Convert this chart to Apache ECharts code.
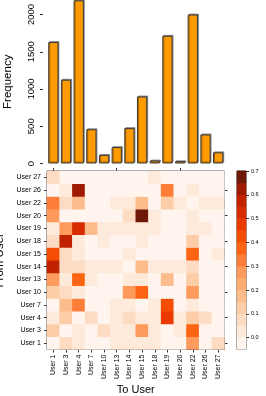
<!DOCTYPE html>
<html>
<head>
<meta charset="utf-8">
<script src="https://cdn.jsdelivr.net/npm/echarts@6/dist/echarts.min.js"></script>
<style>
html,body{margin:0;padding:0;background:#fff;}
#chart{width:266px;height:396px;}
</style>
</head>
<body>
<div id="chart"></div>
<script>
// Users (columns left->right; rows bottom->top)
const users = ['User 1','User 3','User 4','User 7','User 10','User 13','User 14','User 15','User 18','User 19','User 20','User 22','User 26','User 27'];
// Bar chart: frequency per "to" user
const frequency = [1630, 1125, 2190, 460, 115, 220, 475, 900, 40, 1715, 30, 2000, 390, 150];
const freqTicks = [0, 500, 1000, 1500, 2000];
// Transition probabilities: one row per "from" user (User 1 ... User 27), columns = "to" users
const fromUser1  = [0,    0.07, 0.03, 0,    0,    0.03, 0.03, 0.03, 0.03, 0,    0,    0.27, 0,    0.07];
const fromUser3  = [0.12, 0,    0.03, 0,    0.07, 0.03, 0.03, 0.27, 0.03, 0,    0.03, 0.38, 0,    0];
const fromUser4  = [0.03, 0.12, 0,    0.07, 0,    0.03, 0.07, 0.03, 0.03, 0.47, 0.03, 0.12, 0.07, 0];
const fromUser7  = [0,    0.18, 0.34, 0,    0,    0.03, 0.03, 0,    0.03, 0.43, 0,    0.03, 0,    0];
const fromUser10 = [0.12, 0.07, 0.03, 0,    0,    0,    0.27, 0.38, 0,    0,    0,    0.27, 0,    0];
const fromUser13 = [0.27, 0.03, 0.38, 0.03, 0,    0,    0.03, 0.03, 0,    0.17, 0,    0.12, 0,    0];
const fromUser14 = [0.57, 0.07, 0.07, 0.03, 0.03, 0.03, 0,    0.18, 0.03, 0.03, 0.03, 0.07, 0,    0];
const fromUser15 = [0.43, 0.07, 0.03, 0,    0,    0,    0.03, 0,    0,    0,    0,    0.38, 0,    0.03];
const fromUser18 = [0.07, 0.57, 0.03, 0,    0.03, 0,    0,    0.03, 0,    0,    0,    0.12, 0,    0];
const fromUser19 = [0.03, 0.27, 0.53, 0.18, 0.03, 0.03, 0.03, 0.03, 0.03, 0,    0,    0.03, 0.03, 0];
const fromUser20 = [0.27, 0,    0,    0,    0,    0,    0.07, 0.67, 0.03, 0,    0,    0.03, 0,    0];
const fromUser22 = [0.34, 0.07, 0.17, 0,    0,    0.03, 0.03, 0.17, 0,    0.12, 0.03, 0,    0.03, 0.03];
const fromUser26 = [0,    0.03, 0.62, 0,    0,    0,    0,    0,    0,    0.34, 0,    0.03, 0,    0];
const fromUser27 = [0.07, 0,    0,    0,    0,    0,    0,    0,    0.03, 0,    0,    0,    0,    0];
const transition = [fromUser1, fromUser3, fromUser4, fromUser7, fromUser10, fromUser13, fromUser14, fromUser15, fromUser18, fromUser19, fromUser20, fromUser22, fromUser26, fromUser27];
// Colour key
const colorTicks = [0, 0.1, 0.2, 0.3, 0.4, 0.5, 0.6, 0.7];
const bandEdges = [-0.05, 0, 0.05, 0.1, 0.15, 0.2, 0.25, 0.3, 0.35, 0.4, 0.45, 0.5, 0.55, 0.6, 0.65, 0.7];
const bandColors = ['#FFF5EE','#FEEADB','#FDDCC3','#FDCDA8','#FDBC8C','#FDAC72','#FD9A5C','#FD7E38','#FD6414','#F54C06','#EA3A00','#D62C00','#C02200','#A01A02','#6E1808'];

const FONT = '"Liberation Sans", Arial, sans-serif';
const heatData = [];
transition.forEach((row, r) => row.forEach((v, c) => heatData.push([c, r, v])));
const bandIdx = bandColors.map((_, i) => 'b' + i);
const keyData = bandColors.map((_, i) => [0, i, (bandEdges[i] + bandEdges[i + 1]) / 2]);
const pieces = bandColors.map((col, i) => ({gt: bandEdges[i] - 1e-9, lte: bandEdges[i + 1] + 1e-9, color: col}));
pieces[0].gt = -1;

const chart = echarts.init(document.getElementById('chart'), null, {renderer: 'canvas'});
const L = 47, R = 41.5;
chart.setOption({
  animation: false,
  backgroundColor: '#fff',
  textStyle: {fontFamily: FONT, color: '#000'},
  grid: [
    {left: L, right: R, top: 0, height: 163.5, show: false, outerBoundsMode: 'none', containLabel: false},
    {left: L, right: R, top: 171, height: 178.5, show: true, borderColor: '#333', borderWidth: 1, backgroundColor: 'transparent', outerBoundsMode: 'none', containLabel: false},
    {left: 237, width: 9, top: 171, height: 178.5, show: true, borderColor: '#333', borderWidth: 1, outerBoundsMode: 'none', containLabel: false}
  ],
  visualMap: [{type: 'piecewise', show: false, dimension: 2, seriesIndex: [1, 2], pieces: pieces}],
  xAxis: [
    {gridIndex: 0, type: 'category', data: users, axisLine: {show: false}, axisTick: {show: false}, axisLabel: {show: false}},
    {gridIndex: 1, type: 'category', data: users, position: 'bottom',
      axisLine: {show: false}, axisTick: {show: true, alignWithLabel: true, length: 3, lineStyle: {color: '#333'}},
      axisLabel: {rotate: 90, fontSize: 7, margin: 5, color: '#000', fontFamily: FONT},
      name: 'To User', nameLocation: 'middle', nameGap: 35, nameTextStyle: {fontSize: 11, color: '#000', fontFamily: FONT}},
    {gridIndex: 1, type: 'category', data: users, position: 'top',
      axisLine: {show: false}, axisTick: {show: true, alignWithLabel: true, length: 3, lineStyle: {color: '#333'}}, axisLabel: {show: false}},
    {gridIndex: 2, type: 'category', data: ['key'], show: false}
  ],
  yAxis: [
    {gridIndex: 0, type: 'value', min: 0, max: 2195, offset: 4, splitLine: {show: false},
      axisLine: {show: false}, axisTick: {show: true, length: 3, customValues: freqTicks, lineStyle: {color: '#333'}},
      axisLabel: {rotate: 90, fontSize: 9.5, margin: 7, color: '#000', customValues: freqTicks, fontFamily: FONT, formatter: v => String(Math.round(v))},
      name: 'Frequency', nameLocation: 'middle', nameGap: 29, nameRotate: 90, nameTextStyle: {fontSize: 11.5, color: '#000', fontFamily: FONT}},
    {gridIndex: 1, type: 'category', data: users, position: 'left',
      axisLine: {show: false}, axisTick: {show: true, alignWithLabel: true, length: 3, lineStyle: {color: '#333'}},
      axisLabel: {fontSize: 7, margin: 6, color: '#000', fontFamily: FONT},
      name: 'From User', nameLocation: 'middle', nameGap: 34, nameRotate: 90, nameTextStyle: {fontSize: 11.5, color: '#000', fontFamily: FONT}},
    {gridIndex: 1, type: 'category', data: users, position: 'right',
      axisLine: {show: false}, axisTick: {show: true, alignWithLabel: true, length: 3, lineStyle: {color: '#333'}}, axisLabel: {show: false}},
    {gridIndex: 2, type: 'category', data: bandIdx, show: false},
    {gridIndex: 2, type: 'value', min: -0.05, max: 0.7, position: 'right', splitLine: {show: false},
      axisLine: {show: false}, axisTick: {show: true, length: 3, customValues: colorTicks, lineStyle: {color: '#333'}},
      axisLabel: {fontSize: 5.5, margin: 5, color: '#000', customValues: colorTicks, fontFamily: FONT, formatter: v => v.toFixed(1)}}
  ],
  series: [
    {type: 'bar', xAxisIndex: 0, yAxisIndex: 0, data: frequency, barCategoryGap: '19%',
      itemStyle: {color: '#FF9A00', borderColor: '#3a3a3a', borderWidth: 1, shadowColor: 'rgba(0,0,0,0.35)', shadowOffsetX: 1, shadowOffsetY: -1, shadowBlur: 0}},
    {type: 'heatmap', xAxisIndex: 1, yAxisIndex: 1, data: heatData, itemStyle: {borderWidth: 0}, emphasis: {disabled: true}},
    {type: 'heatmap', xAxisIndex: 3, yAxisIndex: 3, data: keyData, itemStyle: {borderWidth: 0}, emphasis: {disabled: true}}
  ]
});
</script>
</body>
</html>
